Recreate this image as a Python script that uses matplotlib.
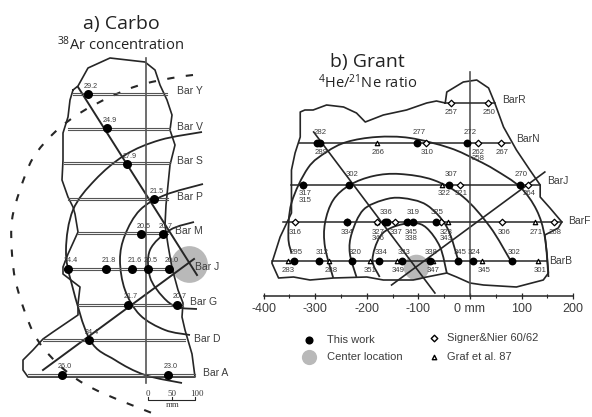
import numpy as np
import matplotlib
matplotlib.use("Agg")
import matplotlib.pyplot as plt
from matplotlib.path import Path
from matplotlib.patches import PathPatch

plt.rcParams['mathtext.default'] = 'regular'

LINE = '#262626'
TEXT = '#3c3c3c'
GREY = '#b9b9b9'

# a) Carbo, in image rows/columns =============================================
a_outline = [(73, 90), (78, 86), (88, 68), (110, 58), (145, 62), (155, 70), (160, 85), (167, 100),
             (172, 115), (170, 130), (175, 145), (170, 165), (168, 185), (166, 205), (165, 225),
             (168, 245), (172, 268), (178, 290), (183, 303), (182, 317), (185, 330), (192, 354),
             (195, 377), (28, 377), (23, 370), (23, 360), (33, 350), (43, 339), (53, 332), (78, 315),
             (78, 304), (80, 287), (63, 274), (63, 267), (68, 254), (78, 232), (75, 214), (73, 207),
             (68, 197), (62, 180), (63, 160), (63, 133), (68, 117), (70, 100), (73, 90)]
a_arcs = [[(202, 132), (160, 140), (125, 155), (95, 180), (73, 210), (66, 250), (72, 285), (90, 340),
           (115, 360), (145, 375), (182, 383)],
          [(203, 184), (165, 195), (140, 210), (125, 235), (120, 260), (125, 290), (140, 315),
           (165, 330), (190, 335)],
          [(194, 222), (170, 230), (150, 250), (150, 277), (163, 297), (177, 307), (197, 309)]]
a_dashed = [(193, 75), (172, 78), (140, 85), (110, 97), (80, 113), (55, 132), (33, 158), (20, 190),
            (12, 220), (12, 254), (17, 287), (33, 332), (53, 359), (78, 380), (107, 395), (157, 415)]
a_diagonals = [[(78, 87), (197, 275)], [(43, 370), (194, 259)]]
a_bar_y = [94, 129, 163, 199, 233, 269, 305, 340, 375]
a_bar_x0 = [73, 68, 64, 68, 78, 63, 78, 43, 28]
a_bar_x1 = [167, 170, 170, 168, 168, 170, 183, 185, 195]
a_bar_names = ['Bar Y', 'Bar V', 'Bar S', 'Bar P', 'Bar M', 'Bar J', 'Bar G', 'Bar D', 'Bar A']
a_name_x = [177, 177, 177, 177, 175, 195, 190, 194, 203]
a_name_y = [91, 127, 161, 197, 231, 267, 302, 339, 373]
a_pt_x = [88, 107, 127, 154, 141, 163, 68, 106, 132, 148, 169, 128, 177, 89, 62, 168]
a_pt_y = [94, 128, 164, 199, 234, 234, 269, 269, 269, 269, 269, 305, 305, 340, 375, 375]
a_pt_labels = ['29.2', '24.9', '27.9', '21.5', '20.5', '20.7', '24.4', '21.8', '21.6', '20.5', '20.0',
               '21.7', '20.7', '24.4', '26.0', '23.0']
a_center = (189, 264)

# b) Grant - x in mm, y in image rows =========================================
b_outline = [(-48, 103), (-45, 92), (-13, 82), (13, 80), (36, 88), (48, 103), (65, 127), (90, 150),
             (116, 170), (136, 185), (136, 197), (155, 208), (178, 222), (171, 228), (145, 235),
             (149, 253), (152, 273), (142, 280), (90, 287), (26, 285), (0, 283), (-26, 277), (-45, 273),
             (-84, 277), (-110, 280), (-168, 280), (-200, 277), (-265, 278), (-310, 280), (-342, 277),
             (-371, 278), (-378, 270), (-384, 263), (-368, 237), (-346, 213), (-346, 185), (-346, 170),
             (-339, 153), (-329, 137), (-329, 112), (-320, 110), (-304, 110), (-278, 105), (-245, 107),
             (-220, 113), (-203, 122), (-168, 115), (-123, 110), (-84, 103), (-65, 101), (-48, 103)]
b_arcs = [[(-346, 253), (-352, 237), (-346, 203), (-314, 168), (-278, 152), (-239, 142), (-181, 137),
           (-116, 138), (-39, 148), (13, 160), (49, 170), (97, 187), (129, 210), (145, 237), (152, 277)],
          [(-265, 278), (-281, 247), (-281, 223), (-265, 200), (-233, 185), (-187, 176), (-136, 174),
           (-71, 180), (-13, 197), (39, 227), (78, 260)],
          [(-220, 277), (-233, 253), (-229, 233), (-207, 210), (-168, 200), (-132, 198), (-84, 205),
           (-45, 227), (-23, 260)],
          [(-175, 277), (-189, 260), (-175, 237), (-149, 227), (-110, 223), (-84, 228), (-58, 247),
           (-45, 273)]]
b_diagonals = [[(-303, 132), (-68, 293)], [(145, 172), (-152, 285)]]
b_bar_y = [103, 143, 185, 222, 261]
b_bar_x0 = [-48, -331, -346, -362, -384]
b_bar_x1 = [48, 78, 136, 178, 149]
b_bar_names = ['BarR', 'BarN', 'BarJ', 'BarF', 'BarB']
b_name_x = [63, 90, 149, 190, 153]
b_name_y = [100, 139, 181, 221, 261]
work_x = [-297, -290, -103, -5, -234, -40, 96, -324, -239, -165, -160, -123, -110, -66, -342, -293, -228,
          -176, -131, -78, -23, 6, 81]
work_y = [143, 143, 143, 143, 185, 185, 185, 185, 222, 222, 222, 222, 222, 222, 261, 261, 261,
          261, 261, 261, 261, 261, 261]
signer_x = [-36, 34, -86, 16, 60, -19, -324, 112, -340, -238, -180, -145, -121, -57, 62, 163]
signer_y = [103, 103, 143, 143, 143, 185, 185, 185, 222, 222, 222, 222, 222, 222, 222, 222]
graf_x = [-181, -55, -42, 126, -180, -353, -273, -194, -142, -71, 24, 132]
graf_y = [143, 185, 222, 222, 222, 261, 261, 261, 261, 261, 261, 261]
b_center = (-105, 267)
b_labels = ['282', '277', '272', '257', '250', '266', '310', '267', '262', '289', '258', '302', '307',
            '270', '322', '321', '264', '317', '315', '336', '319', '325', '316', '334', '327', '337',
            '345', '323', '306', '271', '268', '346', '338', '343', '295', '312', '320', '334', '333',
            '338', '345', '324', '302', '283', '288', '351', '349', '347', '345', '301']
b_label_x = [-291, -99, 0, -36, 37, -178, -83, 63, 16, -288, 16, -229, -37, 99, -50, -18, 115, -320, -320,
             -162, -111, -63, -339, -239, -178, -143, -114, -47, 66, 128, 165, -178, -115, -47, -337, -287,
             -223, -173, -128, -76, -19, 8, 86, -352, -269, -194, -139, -72, 27, 136]
b_label_y = [133, 133, 133, 112, 112, 152, 152, 152, 152, 152, 159, 174, 174, 174, 193, 193, 193, 193, 200,
             212, 212, 212, 232, 232, 232, 232, 232, 232, 232, 232, 232, 238, 238, 238, 252, 252, 252, 252,
             252, 252, 252, 252, 252, 271, 271, 271, 271, 271, 271, 271]
b_ticks = [-400, -300, -200, -100, 0, 100, 200]
b_tick_labels = ['-400', '-300', '-200', '-100', '0 mm', '100', '200']
b_minor = [-350, -250, -150, -50, 50, 150]


def smooth_path(pts):
    # catmull-rom through the read points, as bezier segments
    pts = np.array(pts, dtype=float)
    p = np.vstack([pts[0], pts, pts[-1]])
    verts = [pts[0]]
    codes = [Path.MOVETO]
    for i in range(1, len(p) - 2):
        verts += [p[i] + (p[i + 1] - p[i - 1]) / 6, p[i + 1] - (p[i + 2] - p[i]) / 6, p[i + 1]]
        codes += [Path.CURVE4] * 3
    return Path(verts, codes)


def draw_curve(ax, pts, lw=1.3, **kwargs):
    ax.add_patch(PathPatch(smooth_path(pts), fc='none', ec=LINE, lw=lw, **kwargs))


def main():
    fig = plt.figure(figsize=(5.92, 4.17), dpi=100, facecolor='white')

    # panel a ==================================================================
    ax = fig.add_axes([0, 0, 1, 1])
    ax.set_xlim(0, 592)
    ax.set_ylim(417, 0)
    ax.axis('off')

    ax.scatter(*a_center, s=700, color=GREY, linewidths=0, zorder=1)
    ax.plot(*zip(*a_outline), color=LINE, lw=1.2, zorder=2)
    for pts in a_arcs:
        draw_curve(ax, pts, zorder=2)
    draw_curve(ax, a_dashed, lw=1.5, ls=(0, (3.5, 5.5)), zorder=2)
    for pts in a_diagonals:
        ax.plot(*zip(*pts), color=LINE, lw=1.4, zorder=2)
    ax.plot([146, 146], [58, 383], color='#555555', lw=1.2, zorder=2)

    for y, x0, x1 in zip(a_bar_y, a_bar_x0, a_bar_x1):
        ax.plot([x0, x1], [y - 1, y - 1], color='#555555', lw=0.8, zorder=2)
        ax.plot([x0, x1], [y + 1, y + 1], color='#555555', lw=0.8, zorder=2)
    for name, x, y in zip(a_bar_names, a_name_x, a_name_y):
        ax.text(x, y, name, fontsize=7.5, color=TEXT, family='Liberation Sans', va='center')

    ax.scatter(a_pt_x, a_pt_y, s=42, color='black', linewidths=0, zorder=3)
    for lab, x, y in zip(a_pt_labels, a_pt_x, a_pt_y):
        ax.text(x + 3, y - 8, lab, fontsize=5.2, color=TEXT, family='Liberation Sans',
                ha='center', va='center', zorder=4)

    # scale bar
    ax.plot([148, 148, 195, 195], [397, 400, 400, 397], color=LINE, lw=0.8)
    ax.plot([172, 172], [397, 400], color=LINE, lw=0.8)
    for x, lab in zip([148, 172, 197], ['0', '50', '100']):
        ax.text(x, 394, lab, fontsize=6.5, color=TEXT, family='Liberation Serif', ha='center', va='center')
    ax.text(173, 405, 'mm', fontsize=6.5, color=TEXT, family='Liberation Serif', ha='center', va='center')

    ax.text(121, 24, 'a) Carbo', fontsize=14, color='#222222', family='Open Sans', ha='center', va='center')
    ax.text(121, 45, '$^{38}$Ar concentration', fontsize=10.5, color='#222222', family='Open Sans',
            ha='center', va='center')

    # panel b ==================================================================
    axb = fig.add_axes([0, 0, 1, 1], facecolor='none')
    axb.set_xlim((0 - 470) / 0.516, (592 - 470) / 0.516)
    axb.set_ylim(417, 0)
    axb.patch.set_alpha(0)
    for side in ['top', 'left', 'right']:
        axb.spines[side].set_visible(False)
    axb.spines['bottom'].set_position(('data', 296))
    axb.spines['bottom'].set_bounds(-400, 200)
    axb.spines['bottom'].set_linewidth(1.1)
    axb.spines['bottom'].set_color(LINE)
    axb.set_yticks([])
    axb.set_xticks(b_ticks, b_tick_labels, fontsize=9, color=TEXT, family='Liberation Sans')
    axb.set_xticks(b_minor, minor=True)
    axb.tick_params(axis='x', which='major', direction='inout', length=5, width=0.9, color=LINE, pad=2.5)
    axb.tick_params(axis='x', which='minor', direction='inout', length=3, width=0.8, color=LINE)

    axb.scatter(*b_center, s=340, color=GREY, linewidths=0, zorder=1)
    axb.plot(*zip(*b_outline), color=LINE, lw=1.2, zorder=2)
    for pts in b_arcs:
        draw_curve(axb, pts, zorder=2)
    for pts in b_diagonals:
        axb.plot(*zip(*pts), color=LINE, lw=1.2, zorder=2)
    axb.plot([0, 0], [72, 296], color='#555555', lw=1.2, zorder=2)

    for y, x0, x1 in zip(b_bar_y, b_bar_x0, b_bar_x1):
        axb.plot([x0, x1], [y, y], color=LINE, lw=1.1, zorder=2)
    for name, x, y in zip(b_bar_names, b_name_x, b_name_y):
        axb.text(x, y, name, fontsize=7.5, color=TEXT, family='Liberation Sans', va='center')

    axb.scatter(graf_x, graf_y, s=10, marker='^', facecolors='white', edgecolors='black', linewidths=0.9, zorder=3)
    axb.scatter(signer_x, signer_y, s=11, marker='D', facecolors='white', edgecolors='black', linewidths=0.9, zorder=3)
    axb.scatter(work_x, work_y, s=32, color='black', linewidths=0, zorder=4)
    for lab, x, y in zip(b_labels, b_label_x, b_label_y):
        axb.text(x, y, lab, fontsize=5.6, color=TEXT, family='Liberation Sans', ha='center', va='center', zorder=5)

    # legend
    axb.scatter([-312], [340], s=34, color='black', linewidths=0)
    axb.scatter([-312], [357], s=120, color=GREY, linewidths=0)
    axb.scatter([-70], [338], s=11, marker='D', facecolors='white', edgecolors='black', linewidths=1.0)
    axb.scatter([-70], [357], s=10, marker='^', facecolors='white', edgecolors='black', linewidths=1.0)
    for x, y, lab in zip([-277, -277, -45, -45], [340, 357, 338, 357],
                         ['This work', 'Center location', 'Signer&Nier 60/62', 'Graf et al. 87']):
        axb.text(x, y, lab, fontsize=8, color=TEXT, family='Liberation Sans', va='center')

    axb.text(-198, 62, 'b) Grant', fontsize=14, color='#222222', family='Open Sans', ha='center', va='center')
    axb.text(-198, 83, '$^{4}$He/$^{21}$Ne ratio', fontsize=10.5, color='#222222', family='Open Sans',
             ha='center', va='center')

    fig.savefig('out.png', dpi=100)


if __name__ == "__main__":
    main()
